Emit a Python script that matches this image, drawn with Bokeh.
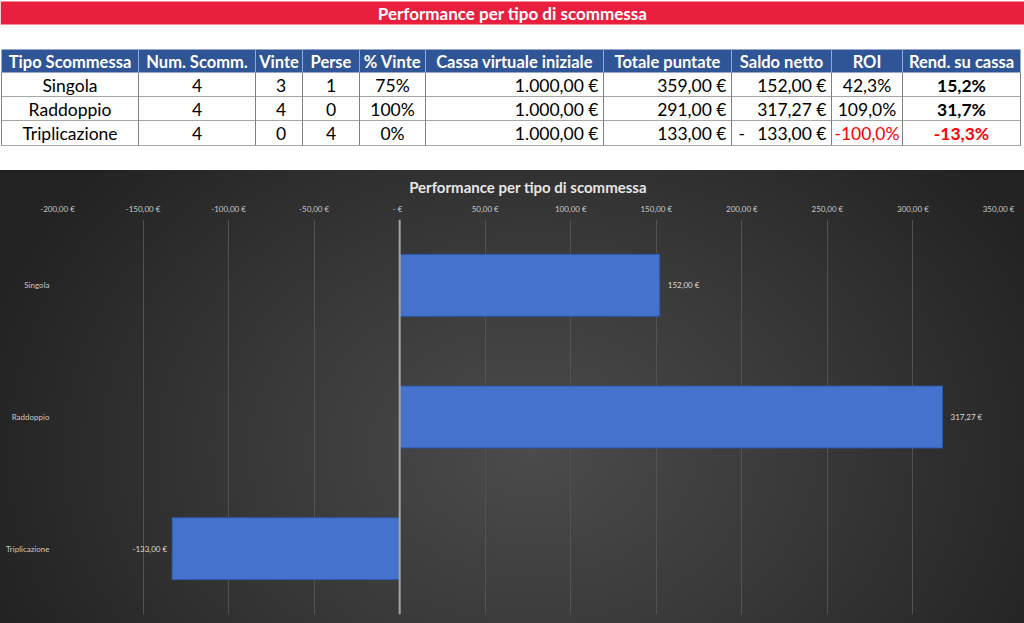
from bokeh.plotting import figure
from bokeh.models import ColumnDataSource, FactorRange, Range1d, FixedTicker, Span, Title
from bokeh.core.properties import value
from bokeh.embed import file_html
from bokeh.resources import INLINE

# ---------------- data ----------------
TITLE = "Performance per tipo di scommessa"
tipi = ["Singola", "Raddoppio", "Triplicazione"]
num_scommesse = [4, 4, 4]
vinte = [3, 4, 0]
perse = [1, 0, 4]
cassa_iniziale = [1000.0, 1000.0, 1000.0]
totale_puntate = [359.0, 291.0, 133.0]
saldo_netto = [152.0, 317.27, -133.0]
headers = ["Tipo Scommessa", "Num. Scomm.", "Vinte", "Perse", "% Vinte",
           "Cassa virtuale iniziale", "Totale puntate", "Saldo netto", "ROI",
           "Rend. su cassa"]
x_ticks = [-200, -150, -100, -50, 0, 50, 100, 150, 200, 250, 300, 350]


def fmt_num(v, dec=2):
    s = f"{abs(v):,.{dec}f}".replace(",", "X").replace(".", ",").replace("X", ".")
    return ("-" if v < 0 else "") + s


def eur(v):
    return fmt_num(v) + " €"


def pct(v, dec):
    return fmt_num(v * 100, dec) + "%"


FONT = "Lato"
W = 1024
TOP_H = 170
CH_H = 453

# ---------------- top: banner + table ----------------
top = figure(width=W, height=TOP_H, x_range=Range1d(0, W), y_range=Range1d(TOP_H, 0),
             toolbar_location=None, output_backend="svg", min_border=0,
             min_border_left=0, min_border_right=0, min_border_top=0, min_border_bottom=0)
top.axis.visible = False
top.grid.visible = False
top.outline_line_color = None
top.background_fill_color = "white"
top.border_fill_color = "white"

# banner
top.quad(left=[0], right=[W], top=[1], bottom=[24], fill_color="#E8203D", line_color=None)
top.text(x=[W / 2], y=[12.5], text=[TITLE], text_align="center", text_baseline="middle",
         text_color="white", text_font=value(FONT), text_font_style="bold",
         text_font_size="17px")

col_edges = [1, 138, 255, 302, 359, 425, 603, 731, 831, 902, 1020]
hdr_top, hdr_bot = 49, 72
row_bounds = [72, 96, 120, 145]
row_mid = [(row_bounds[i] + row_bounds[i + 1]) / 2 + 0.5 for i in range(3)]

# header
top.quad(left=[col_edges[0]], right=[col_edges[-1]], top=[hdr_top], bottom=[hdr_bot],
         fill_color="#2F5597", line_color=None)
top.segment(x0=col_edges[1:-1], x1=col_edges[1:-1], y0=[hdr_top] * 9, y1=[hdr_bot] * 9,
            line_color="#8EA9DB", line_width=1)
centers = [(col_edges[i] + col_edges[i + 1]) / 2 for i in range(10)]
top.text(x=centers, y=[(hdr_top + hdr_bot) / 2 + 0.5] * 10, text=headers, text_align="center",
         text_baseline="middle", text_color="white", text_font=value(FONT),
         text_font_style="bold", text_font_size="16.5px")

# grid lines of body
top.segment(x0=[col_edges[0]] * 3, x1=[col_edges[-1]] * 3, y0=row_bounds[1:], y1=row_bounds[1:],
            line_color="#A6A6A6", line_width=1)
top.segment(x0=col_edges, x1=col_edges, y0=[hdr_bot] * len(col_edges),
            y1=[row_bounds[-1]] * len(col_edges), line_color="#808080", line_width=1)

# cells
cells = {}  # (align, bold) -> lists


def add(x, y, t, align="center", color="black", bold=False):
    d = cells.setdefault((align, bold), {"x": [], "y": [], "t": [], "c": []})
    d["x"].append(x)
    d["y"].append(y)
    d["t"].append(t)
    d["c"].append(color)


RED = "#FF0000"
for i in range(3):
    y = row_mid[i]
    add(centers[0], y, tipi[i])
    add(centers[1], y, str(num_scommesse[i]))
    add(centers[2] + 2, y, str(vinte[i]))
    add(centers[3], y, str(perse[i]))
    add(centers[4], y, pct(vinte[i] / num_scommesse[i], 0))
    add(col_edges[6] - 5, y, eur(cassa_iniziale[i]), "right")
    add(col_edges[7] - 5, y, eur(totale_puntate[i]), "right")
    s = saldo_netto[i]
    add(col_edges[8] - 5, y, eur(abs(s)), "right")
    if s < 0:
        add(col_edges[7] + 7, y, "-", "left")
    roi = s / totale_puntate[i]
    add(centers[8], y, pct(roi, 1), "center", RED if roi < 0 else "black")
    rend = s / cassa_iniziale[i]
    add(centers[9], y, pct(rend, 1), "center", RED if rend < 0 else "black", True)

for (align, bold), d in cells.items():
    src = ColumnDataSource(d)
    top.text(x="x", y="y", text="t", text_color="c", source=src, text_align=align,
             text_baseline="middle", text_font=value(FONT),
             text_font_style="bold" if bold else "normal", text_font_size="17.5px")

# ---------------- chart ----------------
ch = figure(width=W, height=CH_H, y_range=FactorRange(factors=tipi[::-1]),
            x_range=Range1d(-200, 350), x_axis_location="above",
            toolbar_location=None, output_backend="svg",
            min_border_left=57, min_border_right=26, min_border_top=48, min_border_bottom=9)
ch.title = Title(text=TITLE, align="center", text_color="#E6E6E6", text_font=FONT,
                 text_font_size="15px", text_font_style="bold", standoff=10)
ch.background_fill_alpha = 0
ch.border_fill_alpha = 0
ch.outline_line_color = None
ch.styles = {"background": "radial-gradient(ellipse 55% 95% at 52% 62%, #4b4b4b 0%, #3a3a3a 45%, #232323 100%)"}

ch.xaxis.ticker = FixedTicker(ticks=x_ticks)
ch.xaxis.major_label_overrides = {t: ("-   €" if t == 0 else eur(t)) for t in x_ticks}
for ax in ch.axis:
    ax.axis_line_color = None
    ax.major_tick_line_color = None
    ax.minor_tick_line_color = None
    ax.major_tick_out = 0
    ax.major_tick_in = 0
    ax.minor_tick_out = 0
    ax.minor_tick_in = 0
    ax.major_label_text_color = "#C8C8C8"
    ax.major_label_text_font = FONT
    ax.major_label_text_font_size = "8px"
ch.xaxis.major_label_standoff = 6
ch.yaxis.major_label_standoff = 8

ch.xgrid.grid_line_color = "#525252"
ch.xgrid.grid_line_width = 1
ch.ygrid.grid_line_color = None

src = ColumnDataSource(dict(tipo=tipi, saldo=saldo_netto))
ch.hbar(y="tipo", left=0, right="saldo", height=0.47, source=src,
        fill_color="#4572CC", line_color="#2D58A8", line_width=1)
ch.add_layout(Span(location=0, dimension="height", line_color="#A6A6A6", line_width=2))

pos = [i for i, v in enumerate(saldo_netto) if v >= 0]
neg = [i for i, v in enumerate(saldo_netto) if v < 0]
for idx, align, off in ((pos, "left", 8), (neg, "right", -5)):
    lsrc = ColumnDataSource(dict(tipo=[tipi[i] for i in idx],
                                 saldo=[saldo_netto[i] for i in idx],
                                 lab=[eur(saldo_netto[i]) for i in idx]))
    ch.text(x="saldo", y="tipo", text="lab", source=lsrc, x_offset=off,
            text_align=align, text_baseline="middle", text_color="#D9D9D9",
            text_font=value(FONT), text_font_size="8px")

open("out.html", "w").write(file_html([top, ch], INLINE))
